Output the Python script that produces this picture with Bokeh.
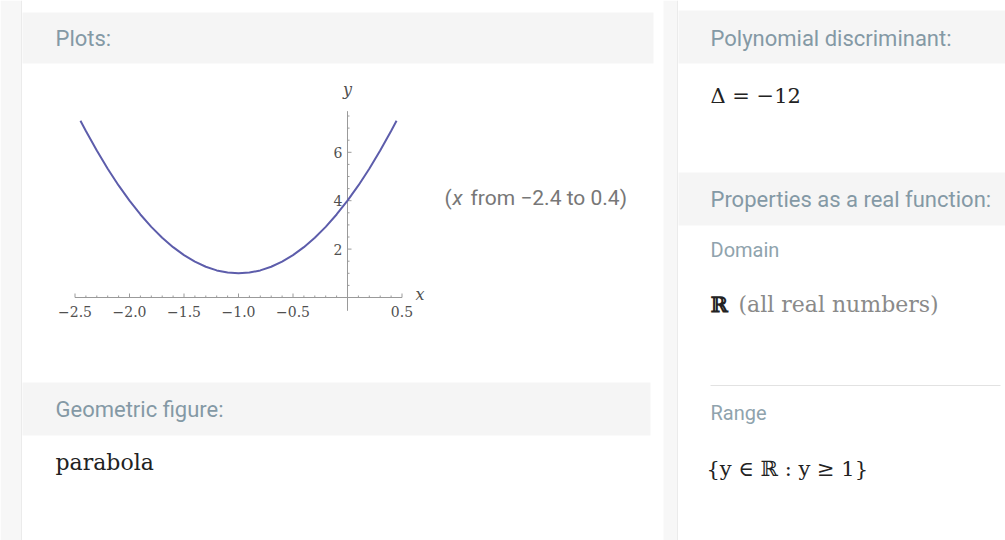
from bokeh.plotting import figure
from bokeh.models import Range1d
from bokeh.core.properties import value
from bokeh.embed import file_html
from bokeh.resources import INLINE
import numpy as np

# --- curve samples y(x) of the parabola ---
curve_x = [-2.45, -2.4, -2.3, -2.2, -2.1, -2.0, -1.9, -1.8, -1.7, -1.6, -1.5,
           -1.4, -1.3, -1.2, -1.1, -1.0, -0.9, -0.8, -0.7, -0.6, -0.5,
           -0.4, -0.3, -0.2, -0.1, 0.0, 0.1, 0.2, 0.3, 0.4, 0.45]
curve_y = [7.30, 6.88, 6.07, 5.32, 4.63, 4.00, 3.43, 2.92, 2.47, 2.08, 1.75,
           1.48, 1.27, 1.12, 1.03, 1.00, 1.03, 1.12, 1.27, 1.48, 1.75,
           2.08, 2.47, 2.92, 3.43, 4.00, 4.63, 5.32, 6.07, 6.88, 7.30]

x_ticks = [-2.5, -2.0, -1.5, -1.0, -0.5, 0.5]
x_tick_labels = ["\u22122.5", "\u22122.0", "\u22121.5", "\u22121.0", "\u22120.5", "0.5"]
y_ticks = [2, 4, 6]
y_tick_labels = ["2", "4", "6"]
x_extent = [-2.5, 0.5]
y_extent = [-0.55, 7.7]

W, H = 1005, 540
# placement of the function plot on the page (origin in px, px per unit)
OX, OY, SX, SY = 347, 297, 109, 24.2

HEAD = "#8499a5"
SANS = value("Roboto")
SERIF = value("DejaVu Serif")

p = figure(width=W, height=H, x_range=Range1d(0, W), y_range=Range1d(H, 0),
           output_backend="svg", toolbar_location=None,
           x_axis_location=None, y_axis_location=None, min_border=0)
p.grid.visible = False
p.outline_line_color = None
p.background_fill_color = "white"
p.border_fill_color = "white"

p.extra_x_ranges = {"fx": Range1d(-OX / SX, (W - OX) / SX)}
p.extra_y_ranges = {"fy": Range1d((OY - H) / SY, OY / SY)}

# page chrome: side strips and pod header bands
p.quad(left=[0, 663], right=[21, 677], top=[0, 0], bottom=[H, H],
       fill_color="#f7f7f7", line_color=None)
p.segment(x0=[21, 677], y0=[0, 0], x1=[21, 677], y1=[H, H],
          line_color="#ebebeb", line_width=1)
p.quad(left=[22, 678, 678, 22], right=[653, W, W, 650],
       top=[12, 10, 172, 382], bottom=[63, 63, 225, 435],
       fill_color="#f5f5f5", line_color=None)
p.segment(x0=[710], y0=[385], x1=[1000], y1=[385], line_color="#e2e2e2", line_width=1)

# pod headings
p.text(x=[55, 710, 710, 55], y=[38, 38, 199, 409],
       text=["Plots:", "Polynomial discriminant:", "Properties as a real function:",
             "Geometric figure:"],
       text_font=SANS, text_font_size="22px", text_color=HEAD,
       text_baseline="middle", text_align="left")
p.text(x=[710, 710], y=[249, 412], text=["Domain", "Range"],
       text_font=SANS, text_font_size="20px", text_color="#8fa3ad",
       text_baseline="middle", text_align="left")

# pod contents
p.text(x=[710], y=[95], text=["\u0394 = \u221212"], text_font=SERIF,
       text_font_size="21px", text_color="#222222", text_baseline="middle")
p.text(x=[55], y=[462], text=["parabola"], text_font=SERIF,
       text_font_size="22px", text_color="#222222", text_baseline="middle")
p.text(x=[710], y=[304], text=["\u211d"], text_font=SERIF, text_font_style="bold",
       text_font_size="21px", text_color="#222222", text_baseline="middle")
p.text(x=[738], y=[304], text=["(all real numbers)"], text_font=SERIF,
       text_font_size="22px", text_color="#8a8a8a", text_baseline="middle")
p.text(x=[706], y=[468], text=["{y \u2208 \u211d : y \u2265 1}"], text_font=SERIF,
       text_font_size="21px", text_color="#222222", text_baseline="middle")

# plot range note
p.text(x=[444], y=[197], text=["("], text_font=SANS, text_font_size="21px",
       text_color="#777777", text_baseline="middle")
p.text(x=[452], y=[197], text=["x"], text_font=SANS, text_font_style="italic",
       text_font_size="21px", text_color="#777777", text_baseline="middle")
p.text(x=[470], y=[197], text=["from \u22122.4 to 0.4)"], text_font=SANS,
       text_font_size="21px", text_color="#777777", text_baseline="middle")

# --- function plot: axes through the origin ---
R = dict(x_range_name="fx", y_range_name="fy")
AX = "#9a9a9a"
p.segment(x0=[x_extent[0], 0], y0=[0, y_extent[0]], x1=[x_extent[1], 0],
          y1=[0, y_extent[1]], line_color=AX, line_width=1, **R)

x_minor = [round(v, 2) for v in np.arange(-2.5, 0.51, 0.1)]
y_minor = [round(v, 2) for v in np.arange(0.5, 7.6, 0.5)]
tlen_x = [(4 if any(abs(v - t) < 1e-6 for t in x_ticks) else 2) / SY for v in x_minor]
p.segment(x0=x_minor, y0=[0] * len(x_minor), x1=x_minor, y1=tlen_x,
          line_color=AX, line_width=1, **R)
tlen_y = [(4 if any(abs(v - t) < 1e-6 for t in y_ticks) else 2) / SX for v in y_minor]
p.segment(x0=[0] * len(y_minor), y0=y_minor, x1=tlen_y, y1=y_minor,
          line_color=AX, line_width=1, **R)

p.text(x=x_ticks, y=[0] * len(x_ticks), text=x_tick_labels, y_offset=8,
       text_align="center", text_baseline="top", text_font=SERIF,
       text_font_size="14px", text_color="#505050", **R)
p.text(x=[0] * len(y_ticks), y=y_ticks, text=y_tick_labels, x_offset=-5,
       text_align="right", text_baseline="middle", text_font=SERIF,
       text_font_size="14px", text_color="#505050", **R)
p.text(x=[x_extent[1]], y=[0], text=["x"], x_offset=18, y_offset=-3,
       text_align="center", text_baseline="middle", text_font=SERIF,
       text_font_style="italic", text_font_size="16px", text_color="#505050", **R)
p.text(x=[0], y=[y_extent[1]], text=["y"], y_offset=-22,
       text_align="center", text_baseline="middle", text_font=SERIF,
       text_font_style="italic", text_font_size="16px", text_color="#505050", **R)

p.line(curve_x, curve_y, line_color="#5d5dab", line_width=2, **R)

open("out.html", "w").write(file_html(p, INLINE))
